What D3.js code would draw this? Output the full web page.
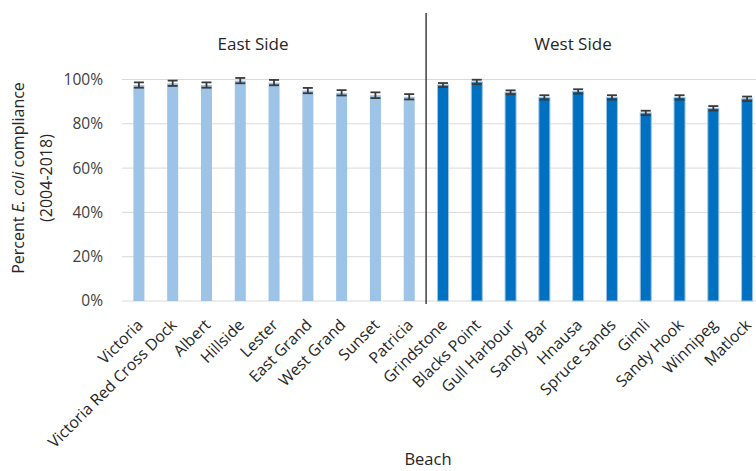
<!DOCTYPE html>
<html>
<head>
<meta charset="utf-8">
<script src="https://cdn.jsdelivr.net/npm/d3@7"></script>
<style>
  body { margin: 0; background: #fff; }
  svg { display: block; font-family: "Open Sans", sans-serif; }
</style>
</head>
<body>
<svg id="chart" width="756" height="471"></svg>
<script>
// Beaches, grouped by side of the lake
const eastBeaches = ["Victoria", "Victoria Red Cross Dock", "Albert", "Hillside", "Lester",
  "East Grand", "West Grand", "Sunset", "Patricia"];
const westBeaches = ["Grindstone", "Blacks Point", "Gull Harbour", "Sandy Bar", "Hnausa",
  "Spruce Sands", "Gimli", "Sandy Hook", "Winnipeg", "Matlock"];

// Mean E. coli compliance (fraction) and error-bar half widths
const eastCompliance = [0.975, 0.983, 0.975, 0.995, 0.986, 0.950, 0.940, 0.929, 0.922];
const westCompliance = [0.975, 0.989, 0.942, 0.919, 0.946, 0.919, 0.849, 0.919, 0.870, 0.913];
const eastError = [0.012, 0.012, 0.012, 0.012, 0.012, 0.012, 0.012, 0.013, 0.012];
const westError = [0.009, 0.010, 0.009, 0.010, 0.010, 0.010, 0.010, 0.010, 0.010, 0.010];

const yTicks = [0, 0.2, 0.4, 0.6, 0.8, 1.0];

const rows = [
  ...eastBeaches.map((b, i) => ({ beach: b, side: "East", value: eastCompliance[i], err: eastError[i] })),
  ...westBeaches.map((b, i) => ({ beach: b, side: "West", value: westCompliance[i], err: westError[i] }))
];

const svg = d3.select("#chart");
const plot = { left: 122, right: 764, top: 79.5, bottom: 301 };

const x = d3.scaleBand().domain(rows.map(d => d.beach)).range([plot.left, plot.right]);
const y = d3.scaleLinear().domain([0, 1]).range([plot.bottom, plot.top]);

const colors = { East: "#9dc3e6", West: "#0070c0" };

// Horizontal gridlines
svg.append("g")
  .selectAll("line")
  .data(yTicks)
  .join("line")
  .attr("x1", plot.left).attr("x2", 756)
  .attr("y1", d => y(d)).attr("y2", d => y(d))
  .attr("stroke", "#d9d9d9").attr("stroke-width", 1);

// Y axis labels
const yAxis = d3.axisLeft(y).tickValues(yTicks).tickFormat(d3.format(".0%")).tickSize(0).tickPadding(0);
svg.append("g")
  .attr("transform", `translate(103,0)`)
  .call(yAxis)
  .call(g => g.select(".domain").remove())
  .call(g => g.selectAll("text")
    .attr("font-family", "Open Sans, sans-serif")
    .attr("font-size", 15.5)
    .attr("fill", "#404040"));

// Bars
const barW = 11;
svg.append("g")
  .selectAll("rect")
  .data(rows)
  .join("rect")
  .attr("x", d => x(d.beach) + x.bandwidth() / 2 - barW / 2)
  .attr("width", barW)
  .attr("y", d => y(d.value))
  .attr("height", d => y(0) - y(d.value))
  .attr("fill", d => colors[d.side])
  .attr("stroke", d => d.side === "West" ? "#9dc3e6" : "none")
  .attr("stroke-width", 1);

// Error bars
const capW = 10;
const eb = svg.append("g").attr("stroke", "#3a3a3a").attr("stroke-width", 1.8);
rows.forEach(d => {
  const cx = x(d.beach) + x.bandwidth() / 2;
  const y1 = y(d.value + d.err), y2 = y(d.value - d.err);
  eb.append("line").attr("x1", cx).attr("x2", cx).attr("y1", y1).attr("y2", y2);
  eb.append("line").attr("x1", cx - capW / 2).attr("x2", cx + capW / 2).attr("y1", y1).attr("y2", y1);
  eb.append("line").attr("x1", cx - capW / 2).attr("x2", cx + capW / 2).attr("y1", y2).attr("y2", y2);
});

// Category labels, rotated
svg.append("g")
  .selectAll("text")
  .data(rows)
  .join("text")
  .attr("transform", d => `translate(${x(d.beach) + x.bandwidth() / 2 + 5},326) rotate(-45)`)
  .attr("text-anchor", "end")
  .attr("font-size", 15.8)
  .attr("fill", "#262626")
  .text(d => d.beach);

// Divider between the two sides
const divX = x(westBeaches[0]);
svg.append("line")
  .attr("x1", divX).attr("x2", divX)
  .attr("y1", 13).attr("y2", 304)
  .attr("stroke", "#404040").attr("stroke-width", 1.5);

// Side headings
svg.append("text").attr("x", 253).attr("y", 50).attr("text-anchor", "middle")
  .attr("font-size", 17).attr("fill", "#262626").text("East Side");
svg.append("text").attr("x", 573).attr("y", 50).attr("text-anchor", "middle")
  .attr("font-size", 17).attr("fill", "#262626").text("West Side");

// Axis titles
const yt = svg.append("text")
  .attr("transform", "translate(0,178) rotate(-90)")
  .attr("text-anchor", "middle")
  .attr("font-size", 16)
  .attr("fill", "#262626");
const line1 = yt.append("tspan").attr("x", 0).attr("y", 24);
line1.append("tspan").text("Percent ");
line1.append("tspan").attr("font-style", "italic").text("E. coli");
line1.append("tspan").text(" compliance");
yt.append("tspan").attr("x", 0).attr("y", 52).text("(2004-2018)");

svg.append("text").attr("x", 428).attr("y", 465).attr("text-anchor", "middle")
  .attr("font-size", 16.5).attr("fill", "#262626").text("Beach");
</script>
</body>
</html>
